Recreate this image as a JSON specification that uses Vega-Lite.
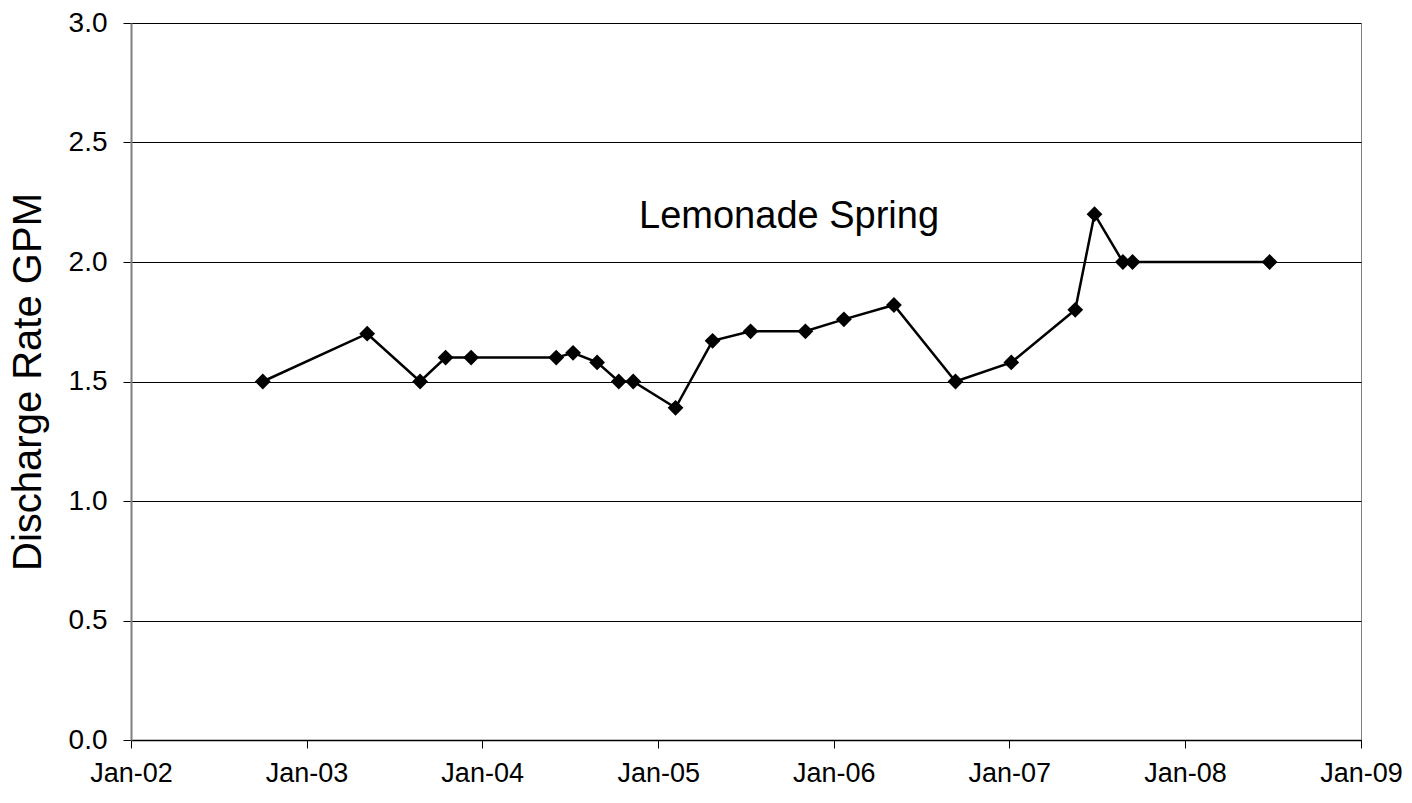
{
  "$schema": "https://vega.github.io/schema/vega-lite/v6.json",
  "width": 1230,
  "height": 717,
  "autosize": "none",
  "padding": {"left": 131, "top": 23, "right": 51, "bottom": 63},
  "background": "white",
  "config": {
    "font": "Liberation Sans",
    "view": {"stroke": "#808080", "strokeWidth": 1}
  },
  "datasets": {
    "flow": [
      {"date": "2002-10-02", "gpm": 1.5},
      {"date": "2003-05-07", "gpm": 1.7},
      {"date": "2003-08-25", "gpm": 1.5},
      {"date": "2003-10-17", "gpm": 1.6},
      {"date": "2003-12-09", "gpm": 1.6},
      {"date": "2004-06-03", "gpm": 1.6},
      {"date": "2004-07-08", "gpm": 1.62},
      {"date": "2004-08-27", "gpm": 1.58},
      {"date": "2004-10-11", "gpm": 1.5},
      {"date": "2004-11-10", "gpm": 1.5},
      {"date": "2005-02-06", "gpm": 1.39},
      {"date": "2005-04-24", "gpm": 1.67},
      {"date": "2005-07-12", "gpm": 1.71},
      {"date": "2005-11-03", "gpm": 1.71},
      {"date": "2006-01-22", "gpm": 1.76},
      {"date": "2006-05-06", "gpm": 1.82},
      {"date": "2006-09-11", "gpm": 1.5},
      {"date": "2007-01-05", "gpm": 1.58},
      {"date": "2007-05-18", "gpm": 1.8},
      {"date": "2007-06-27", "gpm": 2.2},
      {"date": "2007-08-25", "gpm": 2.0},
      {"date": "2007-09-14", "gpm": 2.0},
      {"date": "2008-06-25", "gpm": 2.0}
    ],
    "label": [
      {"date": "2005-09-30", "gpm": 2.19, "text": "Lemonade Spring"}
    ]
  },
  "encoding": {
    "x": {
      "field": "date",
      "type": "temporal",
      "scale": {"type": "utc", "domain": [{"year": 2002, "month": 1, "date": 1, "utc": true}, {"year": 2009, "month": 1, "date": 1, "utc": true}], "nice": false},
      "axis": {
        "title": null,
        "labelExpr": "utcFormat(datum.value, '%b-%y')",
        "tickCount": {"interval": "year", "step": 1},
        "grid": false,
        "domainColor": "#000000",
        "domainWidth": 1.5,
        "tickColor": "#000000",
        "tickSize": 8,
        "tickWidth": 1,
        "labelFontSize": 27,
        "labelColor": "#000000",
        "labelPadding": 12,
        "labelFlush": false,
        "labelOverlap": false
      }
    },
    "y": {
      "field": "gpm",
      "type": "quantitative",
      "scale": {"domain": [0, 3], "nice": false, "zero": true},
      "axis": {
        "title": "Discharge Rate GPM",
        "titleFontSize": 40,
        "titleFontWeight": "normal",
        "titleColor": "#000000",
        "titlePadding": 20,
        "values": [0, 0.5, 1, 1.5, 2, 2.5, 3],
        "format": ".1f",
        "grid": true,
        "gridColor": "#000000",
        "gridWidth": 1,
        "domainColor": "#808080",
        "domainWidth": 2,
        "tickColor": "#000000",
        "tickSize": 8,
        "tickWidth": 1,
        "labelFontSize": 28,
        "labelColor": "#000000",
        "labelPadding": 16
      }
    }
  },
  "layer": [
    {
      "data": {"name": "flow"},
      "mark": {"type": "line", "color": "#000000", "strokeWidth": 2.5},
      "encoding": {}
    },
    {
      "data": {"name": "flow"},
      "mark": {"type": "point", "shape": "diamond", "filled": true, "color": "#000000", "opacity": 1, "size": 250},
      "encoding": {}
    },
    {
      "data": {"name": "label"},
      "mark": {"type": "text", "fontSize": 38, "color": "#000000", "align": "center", "baseline": "middle"},
      "encoding": {"text": {"field": "text"}}
    }
  ]
}
